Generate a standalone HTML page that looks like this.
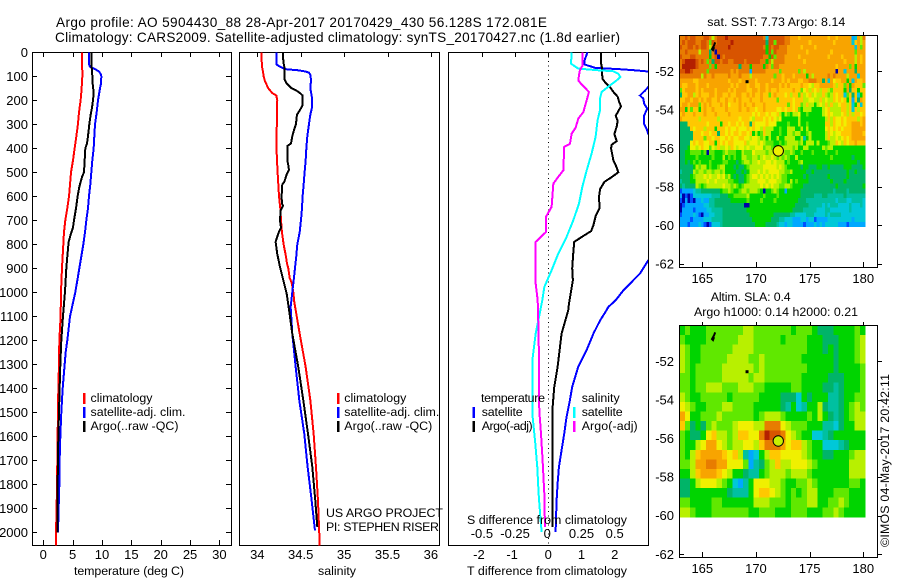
<!DOCTYPE html>
<html lang="en">
<head>
<meta charset="utf-8">
<title>Argo profile 5904430_88</title>
<style>
html,body{margin:0;padding:0;background:#fff;}
svg{display:block;font-family:"Liberation Sans",Arial,sans-serif;font-size:12.4px;fill:#000;}
.t{font-size:13.6px;}
</style>
</head>
<body>
<svg id="fig" xmlns="http://www.w3.org/2000/svg" width="900" height="580" viewBox="0 0 900 580">
<rect width="900" height="580" fill="#fff"/>
<text class="t" x="56" y="27" textLength="491">Argo profile: AO 5904430_88 28-Apr-2017 20170429_430 56.128S 172.081E</text>
<text class="t" x="55" y="42" textLength="565">Climatology: CARS2009. Satellite-adjusted climatology: synTS_20170427.nc (1.8d earlier)</text>

<g id="p1"></g>
<g id="p2"></g>
<g id="p3"></g>
<g id="m1"></g>
<g id="m2"></g>

<text x="74" y="575" textLength="110">temperature (deg C)</text>
<text x="318" y="575" textLength="38">salinity</text>
<text x="467" y="575" textLength="160">T difference from climatology</text>
<text x="467" y="524" textLength="160">S difference from climatology</text>

<g>
<rect x="83" y="393" width="2.5" height="11" fill="#f00"/>
<rect x="83" y="407" width="2.5" height="11" fill="#00f"/>
<rect x="83" y="421" width="2.5" height="11" fill="#000"/>
<text x="90.5" y="402" textLength="62">climatology</text>
<text x="90.5" y="416" textLength="95">satellite-adj. clim.</text>
<text x="90.5" y="430" textLength="88">Argo(..raw -QC)</text>
</g>
<g>
<rect x="337" y="393" width="2.5" height="11" fill="#f00"/>
<rect x="337" y="407" width="2.5" height="11" fill="#00f"/>
<rect x="337" y="421" width="2.5" height="11" fill="#000"/>
<text x="344.3" y="402" textLength="62">climatology</text>
<text x="344.3" y="416" textLength="95">satellite-adj. clim.</text>
<text x="344.3" y="430" textLength="88">Argo(..raw -QC)</text>
</g>
<text x="326" y="517" textLength="117">US ARGO PROJECT</text>
<text x="326" y="531" textLength="113">PI: STEPHEN RISER</text>

<g>
<text x="481" y="402" textLength="64">temperature</text>
<rect x="472.5" y="407" width="2.5" height="11" fill="#00f"/>
<text x="481.7" y="416" textLength="41">satellite</text>
<rect x="472.5" y="421" width="2.5" height="11" fill="#000"/>
<text x="481.7" y="430" textLength="51">Argo(-adj)</text>
<text x="581.7" y="402" textLength="38">salinity</text>
<rect x="573" y="407" width="2.5" height="11" fill="#0ff"/>
<text x="581.7" y="416" textLength="41">satellite</text>
<rect x="573" y="421" width="2.5" height="11" fill="#f0f"/>
<text x="581.7" y="430" textLength="56">Argo(-adj)</text>
</g>

<text x="707.3" y="26" textLength="138">sat. SST: 7.73 Argo: 8.14</text>
<text x="710.7" y="301" textLength="80">Altim. SLA: 0.4</text>
<text x="694" y="316" textLength="164">Argo h1000: 0.14 h2000: 0.21</text>
<text transform="translate(889,547) rotate(-90)" textLength="173">©IMOS 04-May-2017 20:42:11</text>
</svg>

<script>
// ---- Temperature profile data ----
const tempTicks = [0,5,10,15,20,25,30];
const depthTicks = [0,100,200,300,400,500,600,700,800,900,1000,1100,1200,1300,1400,1500,1600,1700,1800,1900,2000];
const tempClimDepth = [0,100,150,200,250,300,350,400,450,500,550,600,650,700,750,800,900,1000,1100,1200,1300,1400,1500,1600,1700,1800,1900,2000,2054];
const tempClim = [6.6,6.65,6.53,6.36,6.08,5.9,5.63,5.34,5.06,4.72,4.55,4.38,4.09,3.75,3.52,3.41,3.18,3.01,2.95,2.73,2.67,2.56,2.5,2.44,2.39,2.33,2.27,2.16,2.16];
const tempSatDepth = [0,50,60,70,80,90,100,130,150,200,250,300,350,400,450,500,550,600,650,700,750,800,850,900,950,1000,1050,1100,1150,1200,1250,1300,1400,1500,1600,1700,1800,1900,2000];
const tempSat = [7.78,7.78,7.95,8.81,9.49,9.77,9.89,9.83,9.66,9.32,9.09,8.81,8.69,8.58,8.35,8.18,8.01,7.78,7.61,7.33,7.1,6.82,6.48,6.14,5.8,5.45,5,4.55,4.32,4.09,3.81,3.64,3.3,3.07,2.9,2.78,2.73,2.61,2.5];
const tempArgoDepth = [0,60,70,100,130,170,200,230,260,300,350,380,400,500,520,560,600,650,700,730,760,790,850,900,1000,1050,1100,1200,1300,1400,1500,1600,1700,1800,1900,2000];
const tempArgo = [8.18,8.18,8.3,8.35,8.41,8.58,8.47,8.3,8.07,7.84,7.61,7.44,7.16,6.93,6.59,6.14,5.85,5.57,5.23,5.06,4.66,4.32,4.09,3.92,3.69,3.52,3.35,3.07,2.9,2.78,2.67,2.56,2.5,2.44,2.39,2.39];

// ---- Salinity profile data ----
const salTicks = [34,34.5,35,35.5,36];
const salClimDepth = [0,60,80,100,120,150,170,180,200,300,330,380,450,500,550,600,650,700,750,800,830,850,880,900,940,960,1000,1040,1172,1311,1450,1589,1728,1867,2006,2056];
const salClim = [34.046,34.054,34.065,34.073,34.088,34.127,34.173,34.219,34.23,34.227,34.219,34.219,34.227,34.234,34.242,34.25,34.265,34.273,34.284,34.303,34.319,34.33,34.342,34.357,34.373,34.396,34.415,34.426,34.488,34.557,34.611,34.649,34.676,34.699,34.714,34.718];
const salSatDepth = [0,50,60,70,72,75,80,85,95,120,150,190,230,260,300,350,400,450,500,550,600,650,700,750,800,850,900,950,1000,1061,1172,1311,1450,1589,1728,1867,1992];
const salSat = [34.219,34.219,34.261,34.319,34.376,34.472,34.557,34.595,34.614,34.618,34.611,34.63,34.63,34.611,34.595,34.576,34.565,34.557,34.545,34.534,34.522,34.515,34.503,34.488,34.461,34.449,34.434,34.419,34.403,34.384,34.403,34.442,34.484,34.541,34.58,34.626,34.664];
const salArgoDepth = [0,40,60,110,130,150,160,170,180,220,240,260,300,320,350,380,390,450,470,490,510,540,550,600,630,640,660,700,730,755,790,840,894,950,1005,1061,1172,1311,1450,1589,1728,1867,1978];
const salArgo = [34.296,34.3,34.311,34.311,34.338,34.396,34.453,34.492,34.522,34.522,34.492,34.457,34.445,34.426,34.403,34.388,34.346,34.346,34.357,34.365,34.338,34.311,34.288,34.28,34.284,34.296,34.269,34.261,34.273,34.242,34.211,34.23,34.261,34.3,34.338,34.361,34.403,34.472,34.53,34.584,34.634,34.668,34.691];

// ---- Difference profile data ----
const tDiffTicks = [-2,-1,0,1,2];
const tDiffLabels = ["-2","-1","0","1","2"];
const sDiffTicks = [-0.5,-0.25,0,0.25,0.5];
const sDiffLabels = ["-0.5","-0.25","0","0.25","0.5"];
const dTSatDepth = [0,30,50,65,70,75,80,100,130,145,160,180,193,215,235,262,297,318,339,400,500,600,700,800,867,922,992,1033,1061,1089,1117,1172,1242,1311,1394,1450,1519,1589,1658,1728,1797,1867,1999];
const dTSat = [1.18,1.1,1.08,1.41,2.11,2.61,3.01,3.3,3.15,3.01,2.91,2.76,2.86,2.89,2.98,2.89,2.88,2.96,3.01,3.25,3.45,3.4,3.55,3.4,3.01,2.76,2.26,2.03,1.81,1.69,1.56,1.36,1.15,0.9,0.72,0.65,0.55,0.48,0.4,0.32,0.28,0.25,0.22];
const dTArgoDepth = [0,40,60,110,125,145,165,185,205,225,240,265,285,310,340,370,385,400,450,480,500,520,540,570,600,650,680,720,745,770,790,840,900,950,1000,1050,1075,1172,1311,1394,1478,1658,1867,1978];
const dTArgo = [1.58,1.58,1.61,1.63,1.71,1.86,1.96,2.09,2.13,2.19,2.13,2.03,2.09,2.06,1.99,2.06,1.91,1.89,1.96,2.06,2.11,1.91,1.69,1.56,1.53,1.54,1.43,1.36,1.29,1,0.78,0.75,0.72,0.74,0.68,0.62,0.6,0.4,0.28,0.18,0.13,0.13,0.13,0.13];
const dSSatDepth = [0,47,54,68,75,79,89,103,117,138,165,193,242,283,353,422,492,561,631,700,769,839,908,978,1033,1117,1172,1283,1394,1519,1617,1728,1839,1936,1999];
const dSSat = [0.176,0.171,0.188,0.226,0.377,0.489,0.527,0.542,0.515,0.464,0.402,0.389,0.389,0.371,0.356,0.326,0.289,0.256,0.231,0.188,0.138,0.075,0.025,-0.03,-0.045,-0.075,-0.095,-0.12,-0.12,-0.118,-0.1,-0.083,-0.073,-0.06,-0.05];
const dSArgoDepth = [0,54,75,96,117,131,165,200,249,276,314,339,381,394,492,519,547,644,686,749,790,964,1033,1172,1311,1492,1589,1700,1839,1978];
const dSArgo = [0.259,0.259,0.238,0.231,0.226,0.246,0.306,0.289,0.264,0.226,0.206,0.176,0.163,0.12,0.113,0.075,0.038,0.025,-0.018,-0.018,-0.095,-0.095,-0.08,-0.073,-0.07,-0.068,-0.055,-0.043,-0.03,-0.025];

// ---- Map data: each character is a colour level (spaces only group columns) ----
const lonTicks = [165,170,175,180];
const latTicks = [-52,-54,-56,-58,-60,-62];
const levelColors = {"0":"#0000a8","1":"#0050ff","2":"#00a8ff","3":"#00c8d8","4":"#00c0a0","5":"#00b468","6":"#00d400","7":"#60e800","8":"#b8f000","9":"#f0f000","a":"#ffc800","b":"#f8a400","c":"#e87c00","d":"#d85400","e":"#b42000"};
const sstRows = [
"ccdcddcccd dc8cdddedd dddddddddd dc3ddddddc cbbbabbbbb bbbbbabbab bbbb23b8c",
"cdcdddccdd c7dcddddde dddddddddd dd5dd7dddc cbbbbbbbab bbbbbbbabb bbbb3ab8b",
"dccddcdcdd c8cddddded dddddddddd dc6dcddccc bbbbbabbbb abbbbbbbbb bbbbb3b7b",
"ccdcccc8cc c5c0dddddd dddddddddd dd6d7dcccc bbbbbbbabb bbbbbbabbb bbbbb7bbb",
"dcccddcccc c6cd0dcddd dddddddddd dcc6d7cccb bbbbabbbbb bbbbbabbbb abbbb8bab",
"cdeeeedcdc 7c5ddcddcc ddddcddddd cc6c8ccccb bbbbbbabbb bbbbbbbbbb babbb8bab",
"ceeeeedccc c7c6cccccc cc5ccc6ccc c6cb7ccbbb bbbbbbbbbb bbbbbbbbab bbb7b6bbb",
"ddeedccccc 7ccccccccb cbcccc2ccc ccbbbbb7bb bbbb7b8bbb bbbbbbbb0b b3bbb5bbb",
"cccccccc8c bbcbbbbbcb bbcbbb8bbb bbbbb7bbab bbabbbb6b8 bbbbbcbcbb bb8bbb3bb",
"bbbbbaabbb bbbbbbbbab bbabbbbbab bbbbabbbab abbbaabbcc cbb5b3b9aa bb6b3baab",
"baabbbabbb abbbbbbbba babbbabbaa bbabbbbaba baaaabaa98 aabbbbba8a a7b6baaa7",
"7abbbbabab bbbabbbbab abbbbaabba bbabaabaaa aabaa79a8a 9a8aa87aaa a6b5aa6aa",
"5aabb8abaa abbabbaaba abbaababaa baa7abaaa9 a8aa7a89a8 988a878a9a a37a5a36a",
"aabbabbaba bbaabaabaa babaaabaaa baaaaa7aaa aa9aaa8899 88a8988a9a 9a6a2a5ba",
"abbabbb7ab abaaabab9a aababaabaa abaaaaaaaa 7a9aa78a88 6898a8a889 aa8a36a3a",
"bb6a7aa6ab aabaaaabaa aabaabaa9a abaaaa99a9 aa9a768886 66689a8888 aa8a3a8aa",
"abaaabaaab aaabaaaaba aaaaaaa9a9 aa9a99a868 7688966766 66689a9888 9a8a8aa9a",
"baaaaaa8aa aaaa8aaaaa aa9aaa98aa a9a9a98966 6666866666 66668a8a99 a9aaaa8ab",
"555aaaaaaa 9aaaa6aa9a a9a9aa5a99 99a9996666 7666866766 6666aa8a99 a9aabbbab",
"5555a9aaa8 aaa6aaa9a9 9a999a9a99 8a88866766 8886686866 66669a9a9a 9aaabbbbb",
"55555aaa9a a9aa5aa9a9 aa9aa9a686 7a88666766 8878866786 66668a9899 aaaabbbba",
"55555aaaa7 aa9aa99a9a 99aa998998 7868668668 8886684686 66668a8898 9a9abbbbb",
"55559a9aa9 9aa6a9a9aa 9999a89998 9877766767 8888786888 68666788a9 8a9aabaaa",
"55569989a9 9798a8898a 9899898899 9788768788 8878668866 6668788666 666666666",
"5566777767 0776667877 7668777988 8878887787 7876676667 6666766676 666666666",
"5566667666 6676668676 7668877887 8988987878 7668666666 6666667666 666656666",
"5565676766 6766667766 6567887889 8899898886 7666786666 6666666666 666666566",
"5555568788 6766788666 5655678888 8999998987 6666656655 5665565555 566655556",
"4555587887 8878878666 6556568889 8989999887 7866666556 5555555555 556556555",
"5555678889 8988989786 5655678998 9898989877 6666665655 5555565555 556555555",
"4555668888 9889888877 6655678889 9989998877 6867666655 5555556555 565555555",
"5455558767 8888889887 8767888888 9898988778 8766665555 5555555565 555555556",
"1222234455 5555567787 6678878887 6066787662 6666655555 5555555455 554555555",
"2010133333 3344455566 7777786666 6766667666 6666655555 4445544444 454444444",
"1020102232 2445555556 6666676666 7666676666 6666555444 4444444434 443344443",
"0122222223 3445555555 5555006666 6666666666 6665555544 4443434443 333433343",
"0222212222 3344445555 5555566666 6666666666 6655554444 4333443333 333433333",
"1222232102 2334445555 5555556666 6666655555 5443333444 3333434444 333333333",
"2222122223 3344445555 5555555666 6666555443 3322233233 1222233333 333323333",
"2221222321 0133345555 5555555566 6655554332 3322221222 3232333332 221222222"
];
const slaRows = [
"67666 77777 77887 77777 76777 65556 66676",
"76666 77777 78887 77776 77776 66555 66678",
"87667 77777 88887 77777 77776 66565 66678",
"87667 77778 88877 87777 77766 66665 66678",
"87677 77788 88887 87777 77776 66665 66667",
"77677 77788 88878 87777 77766 66655 56667",
"77677 88877 78887 76666 67766 66554 56667",
"87667 77776 77777 66665 55365 66644 56677",
"98766 77788 77776 66665 46346 68544 56787",
"b9667 77877 77776 78887 66667 68654 56788",
"a7565 78777 89998 8ccc9 87776 66443 56688",
"76556 9a887 8aa99 ceddc 98766 33456 66666",
"76689 bb987 88998 acccb 9aa87 66333 45666",
"768ab bbba9 a8423 68aa9 99987 66556 66788",
"778bb ccbb9 99724 578a8 89998 76666 66888",
"668ab bba98 66544 67888 78887 66666 66888",
"55689 99876 32469 99887 66778 76666 66776",
"55666 66665 44469 aa987 67678 86667 77666",
"77666 67766 66668 88777 67778 86677 87666",
"88766 67777 77766 77766 67776 66778 76666"
];
const landLons = [166.2,166.1,165.9,166.0,166.1];
const landLats = [-50.5,-50.65,-50.85,-50.9,-50.75];
const islandLon = [169.17];
const islandLat = [-52.54];
const floatLon = 172.08;
const floatLat = -56.13;

const NS = "http://www.w3.org/2000/svg";
function el(parent, tag, attrs){
  var e = document.createElementNS(NS, tag);
  for (var k in attrs) e.setAttribute(k, attrs[k]);
  parent.appendChild(e);
  return e;
}
// ---- Axis functions ----
const yDepth = function(d){return 52.3 + 0.24*d;};
const xTemp = function(t){return 43.3 + 5.87*t;};
const xSal = function(s){return 257.3 + 86.8*(s-34);};
const xT = function(t){return 548.3 + 33.2*t;};
const xS = function(s){return 548.3 + 132.8*s;};
const xLon = function(lon){return 702.3 + 10.73*(lon-165);};
const yLatTop = function(lat){return 71.3 + 19.27*(-52-lat);};
const yLatBot = function(lat){return 361.3 + 19.3*(-52-lat);};

function frame(g, x0, y0, x1, y1){
  var r = el(g, "rect", {x:Math.round(x0)+.5, y:Math.round(y0)+.5, width:Math.round(x1-x0), height:Math.round(y1-y0), fill:"none", stroke:"#000", "stroke-width":1, "shape-rendering":"crispEdges"});
  
  
}
function tick(g, x1, y1, x2, y2){
  var l = el(g, "line", {x1:x1, y1:y1, x2:x2, y2:y2, stroke:"#000", "stroke-width":1, "shape-rendering":"crispEdges"});
  
  
}
function label(g, x, y, s, anchor){
  var t = el(g, "text", {x:x, y:y, "text-anchor":anchor, "font-size":"13px"});
  t.textContent = s;
  
  
}
function profile(g, name, color, depths, values, xFn, clipId){
  var d = "";
  for (var i = 0; i < values.length; i++){
    d += (i ? "L" : "M") + xFn(values[i]).toFixed(2) + " " + yDepth(depths[i]).toFixed(2);
  }
  var p = el(g, "path", {d:d, fill:"none", stroke:color, "stroke-width":2, "shape-rendering":"crispEdges"});
  if (clipId) p.setAttribute("clip-path", "url(#" + clipId + ")");
  
  
}

// ---- Temperature panel ----
var p1 = document.getElementById("p1");
frame(p1, 32, 52, 231, 545);
tempTicks.forEach(function(v){
  var x = Math.round(xTemp(v))+.5;
  tick(p1, x, 52, x, 57);
  tick(p1, x, 545, x, 540);
  label(p1, xTemp(v), 559, String(v), "middle");
});
depthTicks.forEach(function(v){
  var y = Math.round(yDepth(v))+.5;
  tick(p1, 32, y, 37, y);
  tick(p1, 231, y, 226, y);
  label(p1, 28, yDepth(v)+4.5, String(v), "end");
});
profile(p1, "temperature-climatology-line", "#f00", tempClimDepth, tempClim, xTemp);
profile(p1, "temperature-satellite-line", "#00f", tempSatDepth, tempSat, xTemp);
profile(p1, "temperature-argo-line", "#000", tempArgoDepth, tempArgo, xTemp);

// ---- Salinity panel ----
var p2 = document.getElementById("p2");
frame(p2, 239, 52, 439, 545);
salTicks.forEach(function(v){
  var x = Math.round(xSal(v))+.5;
  tick(p2, x, 52, x, 57);
  label(p2, xSal(v), 559, String(v), "middle");
});
profile(p2, "salinity-climatology-line", "#f00", salClimDepth, salClim, xSal);
profile(p2, "salinity-satellite-line", "#00f", salSatDepth, salSat, xSal);
profile(p2, "salinity-argo-line", "#000", salArgoDepth, salArgo, xSal);

// ---- Difference panel ----
var p3 = document.getElementById("p3");
var defs = el(p3, "defs", {});
var cp = el(defs, "clipPath", {id:"p3clip"});
el(cp, "rect", {x:448, y:52, width:200, height:493});
frame(p3, 448, 52, 648, 545);
tDiffTicks.forEach(function(v, i){
  var x = Math.round(xT(v))+.5;
  tick(p3, x, 52, x, 57);
  label(p3, xT(v)-(v<0?3:0), 559, tDiffLabels[i], "middle");
});
sDiffTicks.forEach(function(v, i){
  label(p3, xS(v)-(v===0?1:0), 538, sDiffLabels[i], "middle");
});
var zero = el(p3, "line", {x1:xT(0), y1:52, x2:xT(0), y2:545, stroke:"#000", "stroke-width":1, "stroke-dasharray":"1 3.5", "shape-rendering":"crispEdges"});


profile(p3, "t-diff-satellite-line", "#00f", dTSatDepth, dTSat, xT, "p3clip");
profile(p3, "t-diff-argo-line", "#000", dTArgoDepth, dTArgo, xT, "p3clip");
profile(p3, "s-diff-satellite-line", "#0ff", dSSatDepth, dSSat, xS, "p3clip");
profile(p3, "s-diff-argo-line", "#f0f", dSArgoDepth, dSArgo, xS, "p3clip");

// ---- Maps ----
function drawMap(g, cellName, rows, lonStep, latStep, yLat, yBox0, yBox1, circleFill, xLabelY){
  latTicks.forEach(function(v){
    var y = Math.round(yLat(v))+.5;
    tick(g, 679, y, 684, y);
    tick(g, 877, y, 882, y);
    label(g, 674, yLat(v)+4.5, String(v), "end");
  });
  lonTicks.forEach(function(v){
    var x = Math.round(xLon(v))+.5;
    tick(g, x, yBox0, x, yBox0-3);
    tick(g, x, yBox1, x, yBox1-5);
    label(g, xLon(v), xLabelY, String(v), "middle");
  });
  var lon0 = 162.87, lat0 = -50.13;
  rows.forEach(function(rowText, r){
    var row = rowText.replace(/ /g, "");
    for (var c = 0; c < row.length; c++){
      var x0 = xLon(lon0 + c*lonStep), x1 = xLon(lon0 + (c+1)*lonStep);
      var y0 = yLat(lat0 + r*latStep), y1 = yLat(lat0 + (r+1)*latStep);
      var cell = el(g, "rect", {x:x0.toFixed(2), y:y0.toFixed(2), width:(x1-x0+0.4).toFixed(2), height:(y1-y0+0.4).toFixed(2), fill:levelColors[row[c]], "shape-rendering":"crispEdges"});
      
      
    }
  });
  var d = "";
  landLons.forEach(function(lon, i){ d += (i?"L":"M") + xLon(lon).toFixed(1) + " " + yLat(landLats[i]).toFixed(1); });
  var land = el(g, "path", {d:d, fill:"none", stroke:"#000", "stroke-width":2});
  
  
  islandLon.forEach(function(lon, i){
    var isl = el(g, "rect", {x:xLon(lon)-1.5, y:yLat(islandLat[i])-1.5, width:3, height:3, fill:"#000"});
    
    
  });
  var ring = el(g, "circle", {cx:xLon(floatLon), cy:yLat(floatLat), r:5.2, fill:circleFill, stroke:"#000", "stroke-width":1});
  
  
  frame(g, 679, yBox0, 877, yBox1);
}
drawMap(document.getElementById("m1"), "sst-cell", sstRows, 0.2508, -0.2485, yLatTop, 35, 267, "#f0f000", 283);
drawMap(document.getElementById("m2"), "sla-cell", slaRows, 0.4945, -0.4966, yLatBot, 325, 557, "#c8f000", 573);
</script>
</body>
</html>
